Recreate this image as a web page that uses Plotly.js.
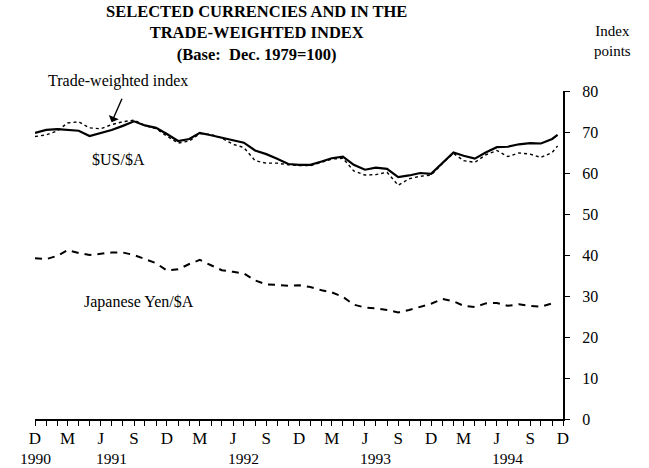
<!DOCTYPE html>
<html>
<head>
<meta charset="utf-8">
<script src="https://cdn.plot.ly/plotly-3.0.1.min.js"></script>
<style>html,body{margin:0;padding:0;background:#fff;}#chart{width:649px;height:468px;}</style>
</head>
<body>
<div id="chart"></div>
<script>
// Monthly observations, Dec 1990 .. Nov 1994 (plus a final mid-month point)
var dates = ['1990-12-01','1991-01-01','1991-02-01','1991-03-01','1991-04-01','1991-05-01','1991-06-01','1991-07-01','1991-08-01','1991-09-01','1991-10-01','1991-11-01',
             '1991-12-01','1992-01-01','1992-02-01','1992-03-01','1992-04-01','1992-05-01','1992-06-01','1992-07-01','1992-08-01','1992-09-01','1992-10-01','1992-11-01',
             '1992-12-01','1993-01-01','1993-02-01','1993-03-01','1993-04-01','1993-05-01','1993-06-01','1993-07-01','1993-08-01','1993-09-01','1993-10-01','1993-11-01',
             '1993-12-01','1994-01-01','1994-02-01','1994-03-01','1994-04-01','1994-05-01','1994-06-01','1994-07-01','1994-08-01','1994-09-01','1994-10-01','1994-11-01','1994-11-16'];
var usd = [69.8,70.5,70.7,70.5,70.3,69.0,69.7,70.5,71.5,72.6,71.6,71.0,
           69.5,67.8,68.3,69.8,69.2,68.6,68.0,67.4,65.5,64.6,63.5,62.2,
           62.0,62.0,62.8,63.6,64.0,62.0,60.8,61.3,61.0,59.0,59.4,60.0,
           59.8,62.5,65.0,64.2,63.5,65.0,66.3,66.4,67.0,67.3,67.2,68.3,69.3];
var twi = [68.9,69.3,70.3,72.2,72.5,71.0,70.8,71.8,72.5,72.9,71.6,70.8,
           69.0,67.3,67.8,69.6,69.4,68.5,67.0,66.2,63.0,62.4,62.4,62.0,
           61.8,61.8,62.6,63.4,63.6,60.5,59.5,59.6,60.2,57.0,58.6,59.2,
           59.5,62.3,64.8,63.0,62.6,64.4,65.5,64.0,64.9,64.6,63.8,65.0,66.6];
var yen = [39.2,39.0,39.8,41.2,40.5,40.0,40.3,40.6,40.6,40.0,39.0,38.0,
           36.2,36.5,37.8,38.8,37.5,36.3,35.9,35.5,33.8,32.8,32.7,32.5,
           32.6,32.2,31.4,30.9,29.8,27.9,27.2,27.0,26.6,26.0,26.6,27.4,
           28.1,29.3,28.7,27.6,27.3,28.2,28.3,27.6,28.0,27.6,27.4,28.2];
var yenDates = dates.slice(0, yen.length);

// Axis ticks
var tickDates = [];
var tickText = [];
var qLetters = ['D','','','M','','','J','','','S','',''];
(function(){
  for (var m = 0; m <= 48; m++) {
    var y = 1990 + Math.floor((11 + m) / 12);
    var mo = (11 + m) % 12 + 1;
    tickDates.push(y + '-' + (mo < 10 ? '0' : '') + mo + '-01');
    tickText.push(qLetters[m % 12]);
  }
})();
var yTicks = [0,10,20,30,40,50,60,70,80];
var yearLabels = ['1990','1991','1992','1993','1994'];
var yearPos = ['1990-12-01','1991-07-01','1992-07-01','1993-07-01','1994-07-01'];

var serif = 'Liberation Serif, Times New Roman, serif';

var traces = [
  {x: dates, y: twi, type: 'scatter', mode: 'lines', name: 'Trade-weighted index',
   line: {color: '#000', width: 1.4, dash: 'dot'}},
  {x: dates, y: usd, type: 'scatter', mode: 'lines', name: '$US/$A',
   line: {color: '#000', width: 2.2}},
  {x: yenDates, y: yen, type: 'scatter', mode: 'lines', name: 'Japanese Yen/$A',
   line: {color: '#000', width: 2, dash: '7px,6px'}}
];

var annotations = [
  {xref: 'paper', yref: 'paper', x: 0.4186, y: 1.178, xanchor: 'center', yanchor: 'middle',
   text: '<b>SELECTED CURRENCIES AND IN THE<br>TRADE-WEIGHTED INDEX<br>(Base:  Dec. 1979=100)</b>',
   showarrow: false, font: {family: serif, size: 16.5, color: '#000'}},
  {xref: 'paper', yref: 'paper', x: 1.093, y: 1.152, xanchor: 'center', yanchor: 'middle',
   text: 'Index<br>points', showarrow: false, font: {family: serif, size: 15, color: '#000'}},
  {xref: 'paper', yref: 'paper', x: 0.157, y: 1.03, xanchor: 'center', yanchor: 'middle',
   text: 'Trade-weighted index', showarrow: false, font: {family: serif, size: 16, color: '#000'}},
  {xref: 'x', yref: 'y', x: '1991-07-01', y: 72.4, text: '', showarrow: true,
   ax: 11, ay: -25, arrowhead: 1, arrowsize: 1.3, arrowwidth: 1.4, arrowcolor: '#000', standoff: 0},
  {xref: 'x', yref: 'y', x: '1991-07-20', y: 63.4, xanchor: 'center', yanchor: 'middle',
   text: '$US/$A', showarrow: false, font: {family: serif, size: 16, color: '#000'}},
  {xref: 'x', yref: 'y', x: '1991-09-15', y: 28.6, xanchor: 'center', yanchor: 'middle',
   text: 'Japanese Yen/$A', showarrow: false, font: {family: serif, size: 16, color: '#000'}}
];
for (var i = 0; i < yearLabels.length; i++) {
  annotations.push({xref: 'x', yref: 'paper', x: yearPos[i], y: -0.119, xanchor: 'center', yanchor: 'middle',
    text: yearLabels[i], showarrow: false, font: {family: serif, size: 15.5, color: '#000'}});
}

var layout = {
  width: 649, height: 468,
  margin: {l: 35, r: 86, t: 91, b: 49, pad: 0},
  paper_bgcolor: '#fff', plot_bgcolor: '#fff',
  showlegend: false,
  font: {family: serif, size: 15, color: '#000'},
  xaxis: {
    type: 'date', range: ['1990-12-01','1994-12-01'],
    tickmode: 'array', tickvals: tickDates, ticktext: tickText,
    ticks: 'outside', ticklen: 5, tickwidth: 1, tickcolor: '#000',
    showline: true, linecolor: '#000', linewidth: 2,
    showgrid: false, zeroline: false,
    ticklabelstandoff: -2,
    tickfont: {family: serif, size: 17, color: '#000'}
  },
  yaxis: {
    side: 'right', range: [0, 80],
    tickmode: 'array', tickvals: yTicks, ticktext: yTicks.map(String),
    ticks: 'outside', ticklen: 5, tickwidth: 1, tickcolor: '#000',
    showline: true, linecolor: '#000', linewidth: 2,
    showgrid: false, zeroline: false,
    ticklabelstandoff: 9,
    tickfont: {family: serif, size: 16, color: '#000'}
  },
  annotations: annotations
};

Plotly.newPlot('chart', traces, layout, {displayModeBar: false, staticPlot: true});
</script>
</body>
</html>
